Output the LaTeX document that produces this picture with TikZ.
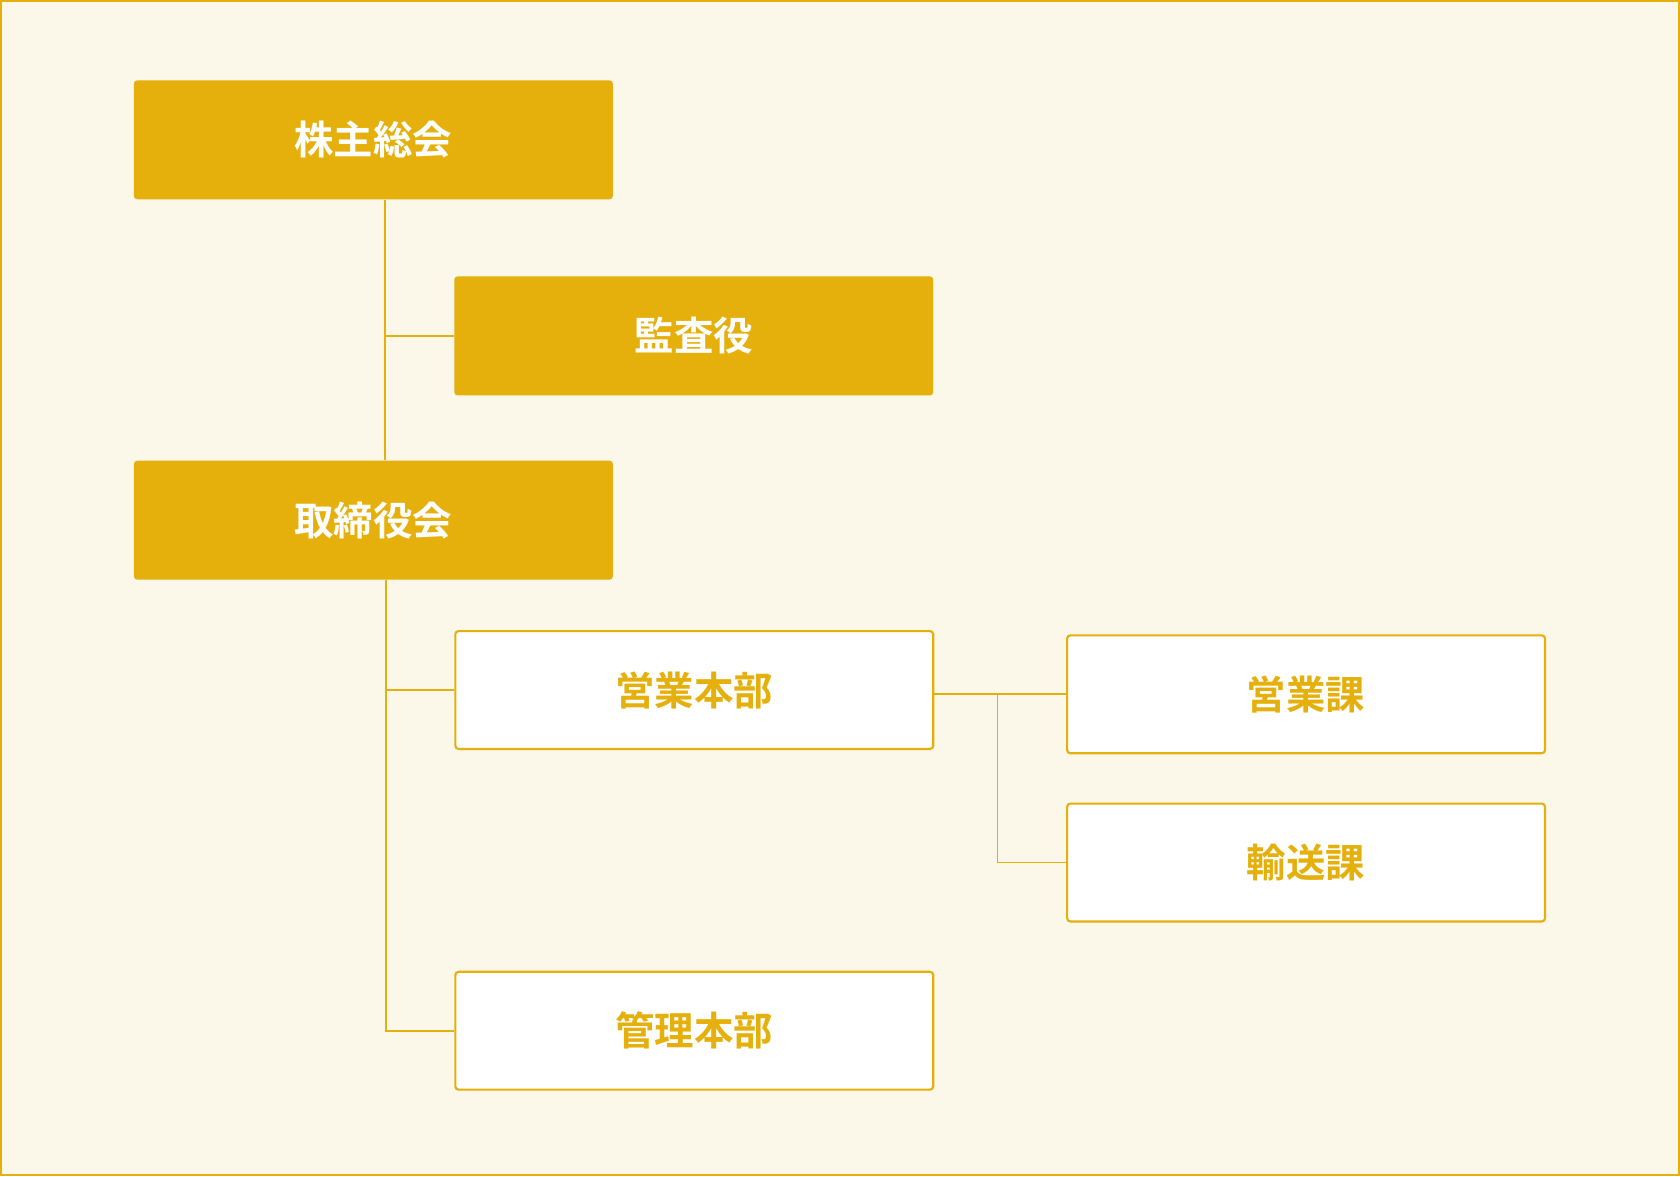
\documentclass[tikz,border=0pt]{standalone}
\usepackage{fontspec}
\newfontfamily\jpfont{Noto Sans CJK JP}[BoldFont={Noto Sans CJK JP Bold}]
\definecolor{gold}{HTML}{E6B00C}
\definecolor{bgc}{HTML}{FBF7E9}
\begin{document}
\begin{tikzpicture}[x=0.5pt,y=-0.5pt,
  filledbox/.style={draw=none,fill=gold,rounded corners=1.5pt,minimum width=223.5pt,minimum height=55.5pt,inner sep=0pt,text=white,font=\jpfont\bfseries\fontsize{18.4pt}{20pt}\selectfont},
  openbox/.style={draw=gold,line width=1pt,fill=white,rounded corners=1.5pt,minimum width=223pt,minimum height=55pt,inner sep=0pt,text=gold,font=\jpfont\bfseries\fontsize{18.4pt}{20pt}\selectfont},
  conn/.style={draw=gold,line width=0.8pt}]
\useasboundingbox (0,0) rectangle (1568,1098);
\fill[bgc] (0,0) rectangle (1568,1098);
\draw[gold,line width=1pt] (1,1) rectangle (1567,1097);
\node[filledbox] (k1) at (348.5,130.5) {株主総会};
\node[filledbox] (k2) at (647.5,313.5) {監査役};
\node[filledbox] (k3) at (348.5,485.5) {取締役会};
\node[openbox] (k4) at (648,644) {営業本部};
\node[openbox] (k5) at (648,962) {管理本部};
\node[openbox] (k6) at (1219,648) {営業課};
\node[openbox] (k7) at (1219,805) {輸送課};
\coordinate (t1) at ([xshift=5.25pt]k1.south);
\coordinate (t2) at ([xshift=5.75pt]k3.south);
\draw[conn] (t1) -- (t1 |- k3.north);
\draw[conn] (k2.west) -- (k2.west -| t1);
\draw[conn] (t2) -- (t2 |- k5.west) -- (k5.west);
\draw[conn] (k4.west) -- (k4.west -| t2);
\coordinate (t3) at (931,648);
\draw[conn] (k4.east |- k6.west) -- (k6.west);
\draw[conn] (t3) -- (t3 |- k7.west) -- (k7.west);
\end{tikzpicture}
\end{document}
